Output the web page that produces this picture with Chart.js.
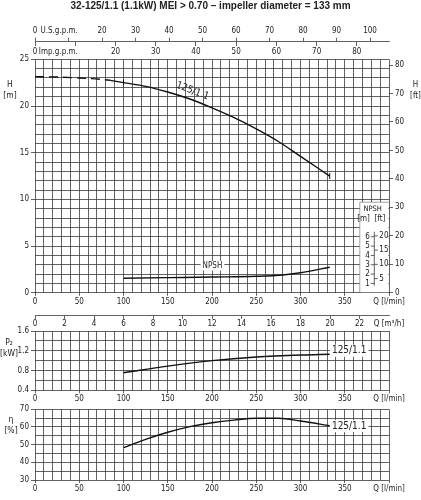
<!DOCTYPE html>
<html><head><meta charset="utf-8">
<script src="https://cdn.jsdelivr.net/npm/chart.js@4.4.1/dist/chart.umd.min.js"></script>
<style>
html,body{margin:0;padding:0;background:#fff;}
body{width:421px;height:500px;position:relative;overflow:hidden;}
#title{position:absolute;left:0;top:0;width:421px;text-align:center;font:bold 10px "Liberation Sans",Arial,sans-serif;color:#222;line-height:11px;z-index:2;}
.c{position:absolute;left:0;width:421px;}
</style></head><body>
<div id="title">32-125/1.1 (1.1kW) MEI &gt; 0.70 – impeller diameter = 133 mm</div>
<div class="c" style="top:0;height:330px"><canvas id="main"></canvas></div>
<div class="c" style="top:322px;height:84px"><canvas id="p2"></canvas></div>
<div class="c" style="top:400px;height:100px"><canvas id="eta"></canvas></div>
<script>
// ---------------- data ----------------
const curveName = '125/1.1';
const headQDashed = [0, 25, 50, 75, 85];
const headHDashed = [23.15, 23.1, 23.0, 22.85, 22.75];
const headQ = [85, 100, 125, 150, 175, 200, 225, 250, 275, 300, 333];
const headH = [22.75, 22.5, 22.1, 21.5, 20.75, 19.8, 18.75, 17.55, 16.2, 14.6, 12.5];
const headMarkQ = [100, 333];
const npshQ = [100, 150, 200, 250, 280, 300, 333];
const npshM = [1.55, 1.62, 1.69, 1.77, 1.91, 2.15, 2.73];
const powerQ = [100, 150, 200, 250, 300, 333];
const powerKW = [0.756, 0.89, 1.0, 1.074, 1.115, 1.13];
const effQ = [100, 125, 150, 175, 200, 225, 250, 275, 300, 333];
const effPct = [48.3, 53, 57, 60.2, 62.4, 63.9, 64.9, 64.9, 63.4, 60.7];

// tick labels / axis ticks
const ftTicks = [0, 10, 20, 30, 40, 50, 60, 70, 80];
const usGpmTicks = [0, 10, 20, 30, 40, 50, 60, 70, 80, 90, 100];
const impGpmTicks = [0, 10, 20, 30, 40, 50, 60, 70, 80];
const m3hTicks = [0, 2, 4, 6, 8, 10, 12, 14, 16, 18, 20, 22, 24];
const npshMTicks = [1, 2, 3, 4, 5, 6];
const npshFtTicks = [5, 10, 15, 20];
const qUnitLabel = 'Q [l/min]';
const m3hUnitLabel = 'Q [m\u00B3/h]';
const usName = 'U.S.g.p.m.', usNameAt = 7.2;
const impName = 'Imp.g.p.m.', impNameAt = 5.8;

// unit conversions
const L_PER_USGAL = 3.78541, L_PER_IMPGAL = 4.54609, M_PER_FT = 0.3048, LPM_PER_M3H = 1000 / 60;

// ---------------- style ----------------
const FONT_FAMILY = "'Liberation Sans Narrow','Arial Narrow','DejaVu Sans Condensed',sans-serif";
const GRID = '#3a3a3a', GW = 0.8, TXT = '#222', CURVE = '#111';
Chart.defaults.font.family = FONT_FAMILY;
Chart.defaults.font.size = 8;
Chart.defaults.color = TXT;
Chart.defaults.animation = false;

const zip = (xs, ys) => xs.map((x, i) => ({x, y: ys[i]}));
const lineDs = (data, extra) => Object.assign({data, borderColor: CURVE, borderWidth: 1.4, pointRadius: 0,
  fill: false, cubicInterpolationMode: 'monotone'}, extra || {});
const fixedTicks = (arr) => (s) => { s.ticks = arr.slice().sort((a, b) => a - b).map(v => ({value: v})); };

function qAxis(h) {
  return {type: 'linear', position: 'bottom', min: 0, max: 400,
    ticks: {stepSize: 10, autoSkip: false, maxRotation: 0, minRotation: 0, padding: 1,
      callback: v => (v % 50) ? '' : (v === 400 ? qUnitLabel : String(v))},
    grid: {color: GRID, lineWidth: GW, tickLength: 3,
      tickColor: c => (c.tick && c.tick.value % 50 === 0) ? GRID : 'transparent'},
    border: {display: false},
    afterFit: s => { s.height = h; }};
}

// ---------------- decoration plugin ----------------
function drawText(ctx, txt, x, y, size, align, bg) {
  ctx.font = size + 'px ' + FONT_FAMILY;
  ctx.textAlign = align || 'center';
  ctx.textBaseline = 'middle';
  if (bg) {
    const w = ctx.measureText(txt).width;
    const x0 = align === 'left' ? x : (align === 'right' ? x - w : x - w / 2);
    ctx.fillStyle = '#fff';
    ctx.fillRect(x0 - 2, y - size * 0.6, w + 4, size * 1.2);
  }
  ctx.fillStyle = TXT;
  ctx.fillText(txt, x, y);
}
const decor = {
  id: 'decor',
  beforeDatasetsDraw(chart, args, o) { if (o && o.inset) o.inset(chart); },
  afterDatasetsDraw(chart, args, o) {
    if (!o) return;
    const {ctx, chartArea: a, scales} = chart;
    (o.labels || []).forEach(l => {
      const px = scales.x.getPixelForValue(l.q), py = scales.y.getPixelForValue(l.v);
      ctx.save(); ctx.translate(px, py); ctx.rotate((l.rot || 0) * Math.PI / 180);
      drawText(ctx, l.text, 0, 0, l.size || 10, l.align || 'center', l.bg);
      ctx.restore();
    });
    (o.names || []).forEach(n => {
      ctx.save();
      const x = n.side === 'right' ? a.right + n.dx : a.left + n.dx;
      n.lines.forEach((t, i) => drawText(ctx, t, x, a.top + n.dy + i * 10.5, n.size || 8.5, 'center'));
      ctx.restore();
    });
  }
};
Chart.register(decor);

// NPSH inset drawn on the head diagram using its scales
const npshBoxQ = 367, npshBoxH = 9.7, npshAxisQ = 383.4, npshAxisFrom = 0.75, npshAxisTo = 6.55;
function drawInset(chart) {
  const {ctx, chartArea: a, scales: {x, y, yft}} = chart;
  const x0 = x.getPixelForValue(npshBoxQ), y0 = y.getPixelForValue(npshBoxH);
  ctx.save();
  ctx.fillStyle = '#fff';
  ctx.fillRect(x0, y0, a.right - 0.6 - x0, a.bottom - 0.6 - y0);
  ctx.strokeStyle = '#666'; ctx.lineWidth = 0.6;
  ctx.beginPath(); ctx.moveTo(x0, a.bottom); ctx.lineTo(x0, y0); ctx.lineTo(a.right, y0); ctx.stroke();
  const lx = x.getPixelForValue(npshAxisQ);
  ctx.strokeStyle = GRID; ctx.lineWidth = 0.8;
  ctx.beginPath();
  ctx.moveTo(lx, y.getPixelForValue(npshAxisFrom)); ctx.lineTo(lx, y.getPixelForValue(npshAxisTo));
  npshMTicks.forEach(v => { const p = y.getPixelForValue(v); ctx.moveTo(lx - 3.5, p); ctx.lineTo(lx, p); });
  npshFtTicks.forEach(v => { const p = yft.getPixelForValue(v); ctx.moveTo(lx, p); ctx.lineTo(lx + 3.5, p); });
  ctx.stroke();
  npshMTicks.forEach(v => drawText(ctx, String(v), lx - 4.5, y.getPixelForValue(v), 8, 'right'));
  npshFtTicks.forEach(v => drawText(ctx, String(v), lx + 5, yft.getPixelForValue(v), 8, 'left'));
  drawText(ctx, 'NPSH', x.getPixelForValue(381.5), y.getPixelForValue(8.98), 7.5, 'center');
  drawText(ctx, '[m]  [ft]', x.getPixelForValue(380), y.getPixelForValue(7.9), 8, 'center');
  ctx.restore();
}

// ---------------- head / NPSH chart ----------------
new Chart(document.getElementById('main'), {
  type: 'line',
  data: {datasets: [
    lineDs(zip(headQDashed, headHDashed), {borderDash: [9, 5]}),
    lineDs(zip(headQ, headH), {pointStyle: 'line', rotation: 90, pointBorderColor: CURVE, pointBorderWidth: 1,
      pointRadius: c => (c.raw && headMarkQ.includes(c.raw.x)) ? 3 : 0}),
    lineDs(zip(npshQ, npshM))
  ]},
  options: {
    responsive: true, maintainAspectRatio: false, events: [],
    layout: {padding: 0},
    scales: {
      x: qAxis(37.2),
      y: {type: 'linear', position: 'left', min: 0, max: 25,
        ticks: {stepSize: 1, autoSkip: false, padding: 2, callback: v => (v % 5) ? '' : String(v)},
        grid: {color: GRID, lineWidth: GW, tickLength: 4,
          tickColor: c => (c.tick && c.tick.value % 5 === 0) ? GRID : 'transparent'},
        border: {display: false},
        afterFit: s => { s.width = 35; }},
      yft: {type: 'linear', axis: 'y', position: 'right', min: 0, max: 25 / M_PER_FT,
        afterBuildTicks: fixedTicks(ftTicks),
        ticks: {autoSkip: false, padding: 2, callback: v => String(v)},
        grid: {drawOnChartArea: false, color: GRID, lineWidth: GW, tickLength: 4},
        border: {display: false},
        afterFit: s => { s.width = 32; }},
      xus: {type: 'linear', axis: 'x', position: 'top', weight: 2, min: 0, max: 400 / L_PER_USGAL,
        afterBuildTicks: fixedTicks(usGpmTicks.concat([usNameAt])),
        ticks: {autoSkip: false, maxRotation: 0, minRotation: 0, padding: 2,
          callback: v => v === usNameAt ? usName : (v === 10 ? '' : String(v))},
        grid: {drawOnChartArea: false, color: GRID, lineWidth: GW, tickLength: 4,
          tickColor: c => (c.tick && c.tick.value === usNameAt) ? 'transparent' : GRID},
        border: {display: true, color: GRID, width: GW},
        afterFit: s => { s.height = 41.7; }},
      xgap: {type: 'linear', axis: 'x', position: 'top', weight: 1, min: 0, max: 400,
        ticks: {display: false}, grid: {display: false}, border: {display: false},
        afterFit: s => { s.height = 17.6; }},
      ximp: {type: 'linear', axis: 'x', position: {y: 26.885}, min: 0, max: 400 / L_PER_IMPGAL,
        afterBuildTicks: fixedTicks(impGpmTicks.concat([impNameAt])),
        ticks: {autoSkip: false, maxRotation: 0, minRotation: 0, padding: 1,
          callback: v => v === impNameAt ? impName : (v === 10 ? '' : String(v))},
        grid: {drawOnChartArea: false, color: GRID, lineWidth: GW, tickLength: 4,
          tickColor: c => (c.tick && c.tick.value === impNameAt) ? 'transparent' : GRID},
        border: {display: false},
        afterFit: s => { s.height = 0; }},
      xm3h: {type: 'linear', axis: 'x', position: {y: -2.38}, min: 0, max: 400 / LPM_PER_M3H,
        afterBuildTicks: fixedTicks(m3hTicks),
        ticks: {autoSkip: false, maxRotation: 0, minRotation: 0, padding: 1,
          callback: v => v === 24 ? m3hUnitLabel : String(v)},
        grid: {drawOnChartArea: false, color: GRID, lineWidth: GW, tickLength: 3,
          tickColor: c => (c.tick && c.tick.value === 24) ? 'transparent' : GRID},
        border: {display: true, color: GRID, width: GW},
        afterFit: s => { s.height = 0; }}
    },
    plugins: {legend: {display: false}, tooltip: {enabled: false},
      decor: {inset: drawInset,
        labels: [{text: curveName, q: 178, v: 21.6, rot: 21, size: 10},
                 {text: 'NPSH', q: 200.5, v: 2.9, size: 8, bg: true}],
        names: [{lines: ['H', '[m]'], dx: -25, dy: 25.7},
                {lines: ['H', '[ft]'], side: 'right', dx: 26.5, dy: 25.7, size: 8}]}}
  }
});

// ---------------- power chart ----------------
new Chart(document.getElementById('p2'), {
  type: 'line',
  data: {datasets: [lineDs(zip(powerQ, powerKW))]},
  options: {
    responsive: true, maintainAspectRatio: false, events: [],
    layout: {padding: {top: 9, right: 32, left: 0, bottom: 0}},
    scales: {
      x: qAxis(15.7),
      y: {type: 'linear', position: 'left', min: 0.4, max: 1.6,
        ticks: {stepSize: 0.2, autoSkip: false, padding: 2,
          callback: v => Math.abs(v / 0.4 - Math.round(v / 0.4)) < 1e-6 ? v.toFixed(1) : ''},
        grid: {color: GRID, lineWidth: GW, tickLength: 4,
          tickColor: c => (c.tick && Math.abs(c.tick.value / 0.4 - Math.round(c.tick.value / 0.4)) < 1e-6) ? GRID : 'transparent'},
        border: {display: false},
        afterFit: s => { s.width = 35; }}
    },
    plugins: {legend: {display: false}, tooltip: {enabled: false},
      decor: {labels: [{text: curveName, q: 355, v: 1.2, size: 10, bg: true}],
        names: [{lines: ['P\u2082', '[kW]'], dx: -26, dy: 12}]}}
  }
});

// ---------------- efficiency chart ----------------
new Chart(document.getElementById('eta'), {
  type: 'line',
  data: {datasets: [lineDs(zip(effQ, effPct))]},
  options: {
    responsive: true, maintainAspectRatio: false, events: [],
    layout: {padding: {top: 9.3, right: 32, left: 0, bottom: 0}},
    scales: {
      x: qAxis(20),
      y: {type: 'linear', position: 'left', min: 30, max: 70,
        ticks: {stepSize: 5, autoSkip: false, padding: 2, callback: v => (v % 10) ? '' : String(v)},
        grid: {color: GRID, lineWidth: GW, tickLength: 4,
          tickColor: c => (c.tick && c.tick.value % 10 === 0) ? GRID : 'transparent'},
        border: {display: false},
        afterFit: s => { s.width = 35; }}
    },
    plugins: {legend: {display: false}, tooltip: {enabled: false},
      decor: {labels: [{text: curveName, q: 355, v: 60.5, size: 10, bg: true}],
        names: [{lines: ['\u03B7', '[%]'], dx: -24, dy: 10.7}]}}
  }
});
</script>
</body></html>
